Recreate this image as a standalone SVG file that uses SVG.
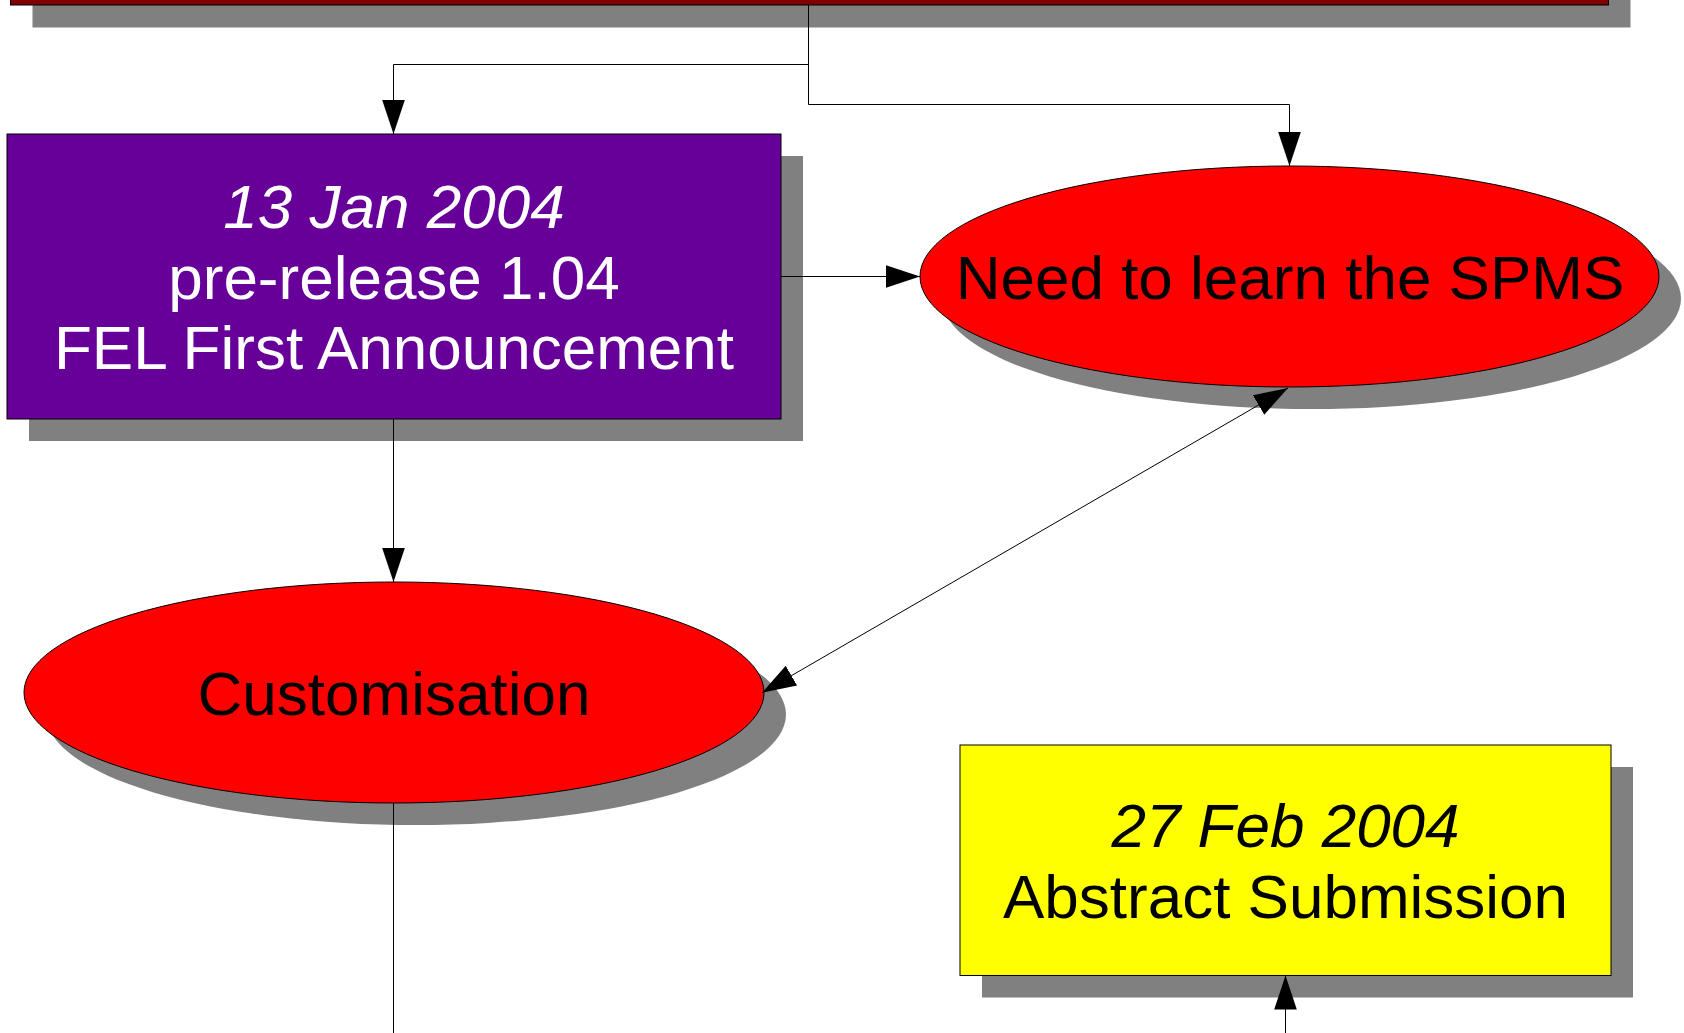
<svg xmlns="http://www.w3.org/2000/svg" width="1684" height="1033" viewBox="0 0 1684 1033">
  <style>
    .shadow { fill: #808080; stroke: none; }
    .node { stroke: #000000; stroke-width: 1; }
    .conn { fill: none; stroke: #000000; stroke-width: 1; }
    .lbl { font-family: "Liberation Sans", Arial, sans-serif; font-size: 62px; text-anchor: middle; }
    .it { font-style: italic; }
  </style>
  <defs>
    <marker id="arrow" markerUnits="userSpaceOnUse" markerWidth="34" markerHeight="24" viewBox="0 0 33 22" refX="33" refY="11" orient="auto-start-reverse">
      <path d="M0,0 L33,11 L0,22 Z" fill="#000000"/>
    </marker>
  </defs>
  <rect width="1684" height="1033" fill="#ffffff"/>

  <g id="node-top">
    <rect class="shadow" x="32.5" y="-30" width="1598" height="57.5"/>
    <rect class="node" x="10.5" y="-52" width="1598" height="57" fill="#800000"/>
  </g>

  <g id="node-announcement">
    <rect class="shadow" x="29" y="156" width="774" height="285"/>
    <rect class="node" x="7" y="134" width="774" height="285" fill="#660099"/>
    <text class="lbl it" x="394" y="228" fill="#ffffff">13 Jan 2004</text>
    <text class="lbl" x="394" y="299" fill="#ffffff">pre-release 1.04</text>
    <text class="lbl" x="394" y="369" fill="#ffffff">FEL First Announcement</text>
  </g>

  <g id="node-learn">
    <ellipse class="shadow" cx="1311.5" cy="298.5" rx="369.5" ry="110.5"/>
    <ellipse class="node" cx="1289.5" cy="276.5" rx="369.5" ry="110.5" fill="#ff0000"/>
    <text class="lbl" x="1290" y="298.5" fill="#000000">Need to learn the SPMS</text>
  </g>

  <g id="node-custom">
    <ellipse class="shadow" cx="416" cy="714.5" rx="370" ry="110.5"/>
    <ellipse class="node" cx="394" cy="692.5" rx="370" ry="110.5" fill="#ff0000"/>
    <text class="lbl" x="394" y="714.5" fill="#000000">Customisation</text>
  </g>

  <g id="node-abstract">
    <rect class="shadow" x="982" y="767" width="651" height="230.5"/>
    <rect class="node" x="960" y="745" width="651" height="230.5" fill="#ffff00"/>
    <text class="lbl it" x="1285.5" y="846.5" fill="#000000">27 Feb 2004</text>
    <text class="lbl" x="1285.5" y="917.5" fill="#000000">Abstract Submission</text>
  </g>

  <g id="connectors">
    <path class="conn" d="M808.5,5 V64.5 H393.5 V134" marker-end="url(#arrow)"/>
    <path class="conn" d="M808.5,64 V104.5 H1289.5 V166" marker-end="url(#arrow)"/>
    <path class="conn" d="M781,276.5 H920" marker-end="url(#arrow)"/>
    <path class="conn" d="M393.5,419 V582" marker-end="url(#arrow)"/>
    <path class="conn" d="M762,692.7 L1288,388" marker-start="url(#arrow)" marker-end="url(#arrow)"/>
    <path class="conn" d="M393.5,803 V1033"/>
    <path class="conn" d="M1285.5,1033 V975.5" marker-end="url(#arrow)"/>
  </g>
</svg>
